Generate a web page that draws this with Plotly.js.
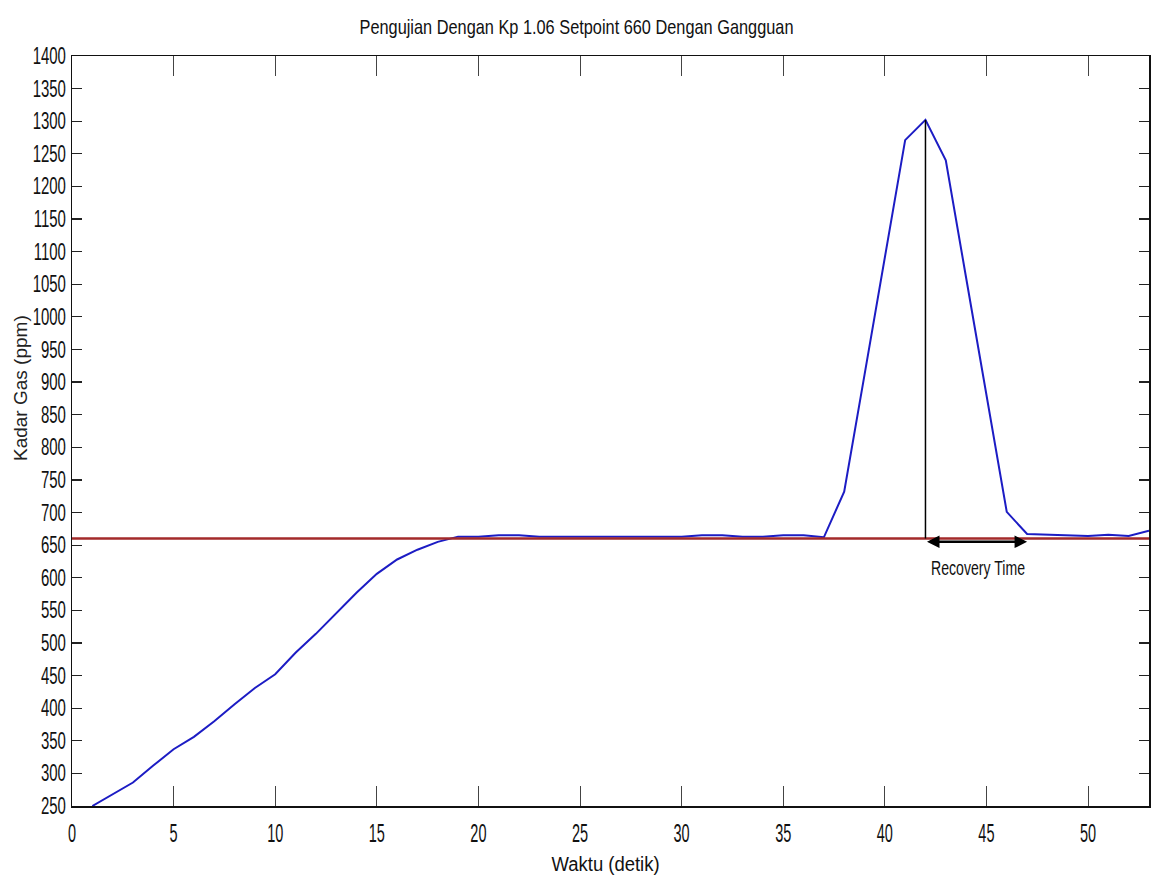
<!DOCTYPE html>
<html>
<head>
<meta charset="utf-8">
<script src="https://cdn.plot.ly/plotly-3.0.1.min.js"></script>
<style>html,body{margin:0;padding:0;background:#fff;}#chart{width:1153px;height:879px;}</style>
</head>
<body>
<div id="chart"></div>
<script>
// Data
var waktu = [1,2,3,4,5,6,7,8,9,10,11,12,13,14,15,16,17,18,19,20,21,22,23,24,25,26,27,28,29,30,31,32,33,34,35,36,37,38,39,40,41,42,43,44,45,46,47,48,49,50,51,52,53];
var kadarGas = [250,268,286,312,337,356,380,406,431,452,485,514,545,577,606,628,643,655,663,663,665,665,663,663,663,663,663,663,663,663,665,665,663,663,665,665,662,732,911,1090,1271,1302,1240,1060,880,701,667,666,664,664,666,664,672];
var setpoint = 660;
var xRange = [0, 53];
var yRange = [250, 1400];
var chartTitle = 'Pengujian Dengan Kp 1.06 Setpoint 660 Dengan Gangguan';
var xTitle = 'Waktu (detik)';
var yTitle = 'Kadar Gas (ppm)';
var recoveryLabel = 'Recovery Time';
var recoveryEnd = 47;

var sans = '"Liberation Sans", Arial, sans-serif';

var peakIdx = kadarGas.indexOf(Math.max.apply(null, kadarGas));
var peakT = waktu[peakIdx], peakV = kadarGas[peakIdx];

var traces = [
  {x: waktu, y: kadarGas, type: 'scatter', mode: 'lines',
   line: {color: '#1c1cc4', width: 2}, hoverinfo: 'x+y'},
  {x: xRange, y: [setpoint, setpoint], type: 'scatter', mode: 'lines',
   line: {color: '#a32a2a', width: 2.5}, hoverinfo: 'y'}
];

var layout = {
  width: 1153, height: 879,
  margin: {l: 72, r: 4, t: 56, b: 73},
  paper_bgcolor: '#fff', plot_bgcolor: '#fff',
  showlegend: false,
  title: {text: chartTitle, x: 0.5, xanchor: 'center', y: 1 - 27 / 879, yanchor: 'middle',
          font: {family: sans, size: 21, color: '#111'}},
  xaxis: {
    range: xRange, dtick: 5, tick0: 0,
    ticks: 'inside', ticklen: 20, tickwidth: 1, tickcolor: '#444',
    showline: true, linecolor: '#111', linewidth: 1.5, mirror: 'ticks',
    showgrid: false, zeroline: false, ticklabelstandoff: 4,
    tickfont: {family: sans, size: 25, color: '#111'}
  },
  yaxis: {
    range: yRange, dtick: 50, tick0: 0,
    ticks: 'inside', ticklen: 10, tickwidth: 1.2, tickcolor: '#222',
    showline: true, linecolor: '#111', linewidth: 1.5, mirror: 'ticks',
    showgrid: false, zeroline: false,
    tickfont: {family: sans, size: 23, color: '#111'}
  },
  shapes: [
    {type: 'line', xref: 'x', yref: 'y', x0: peakT, x1: peakT, y0: setpoint, y1: peakV,
     line: {color: '#000', width: 1.5}}
  ],
  annotations: [
    {x: recoveryEnd, y: setpoint - 5, ax: peakT, ay: setpoint - 5, xref: 'x', yref: 'y',
     axref: 'x', ayref: 'y', text: '', showarrow: true, arrowhead: 2, arrowsize: 1,
     arrowwidth: 2.5, arrowcolor: '#000', arrowside: 'end+start'},
    {x: (peakT + recoveryEnd) / 2 + 0.1, y: setpoint - 44, xref: 'x', yref: 'y', text: recoveryLabel,
     showarrow: false, font: {family: sans, size: 21, color: '#111'}},
    {x: 0.5 - 5 / 1077, y: -58 / 750, xref: 'paper', yref: 'paper', text: xTitle,
     showarrow: false, xanchor: 'center', yanchor: 'middle',
     font: {family: sans, size: 20, color: '#111'}},
    {x: -52 / 1077, y: (806 - 388) / 750, xref: 'paper', yref: 'paper', text: yTitle,
     showarrow: false, textangle: -90, xanchor: 'center', yanchor: 'middle',
     font: {family: sans, size: 19, color: '#222'}}
  ]
};

function squeeze(el, factor, target) {
  var w = el.getComputedTextLength();
  if (!w) return;
  var t = target ? target : w * factor;
  el.setAttribute('textLength', t);
  el.setAttribute('lengthAdjust', 'spacingAndGlyphs');
}

Plotly.newPlot('chart', traces, layout, {displayModeBar: false, staticPlot: true}).then(function (gd) {
  gd.querySelectorAll('.xtick text').forEach(function (el) { squeeze(el, 0.58); });
  gd.querySelectorAll('.ytick text').forEach(function (el) { squeeze(el, 0.65); });
  var tt = gd.querySelector('.gtitle');
  if (tt) squeeze(tt, 0, 434);
  gd.querySelectorAll('.annotation-text').forEach(function (el) {
    var s = el.textContent;
    if (s === recoveryLabel) squeeze(el, 0, 94);
    else if (s === xTitle) squeeze(el, 0, 108);
  });
});
</script>
</body>
</html>
